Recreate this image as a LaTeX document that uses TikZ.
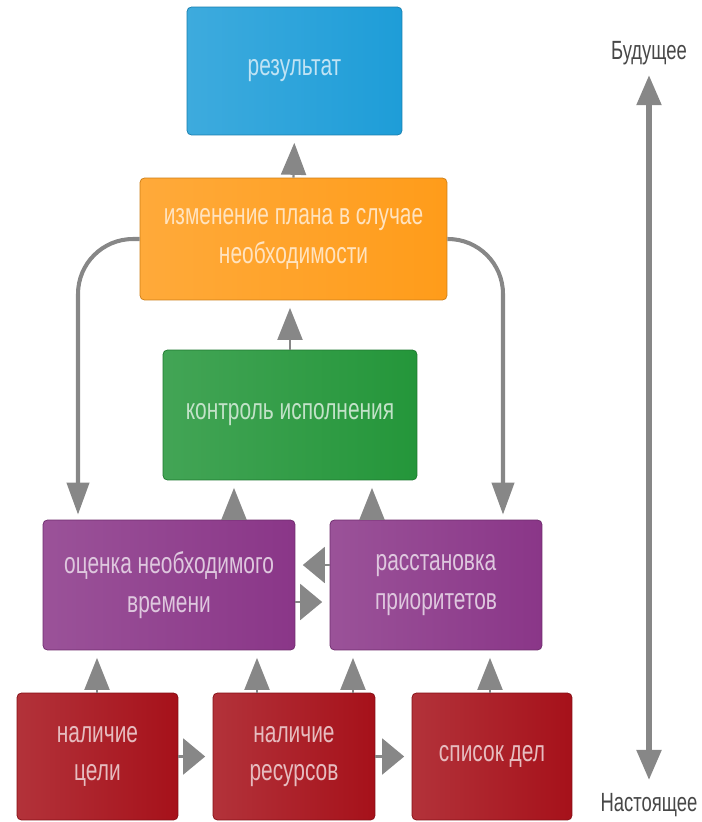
\documentclass[tikz,border=0pt]{standalone}
\usepackage{fontspec}
\newfontfamily\boxfont[FakeStretch=0.7]{Liberation Sans}
\usetikzlibrary{arrows.meta}

\definecolor{rezblue}{HTML}{1E9DD8}
\definecolor{izmorange}{HTML}{FF9C1A}
\definecolor{kontrgreen}{HTML}{24963A}
\definecolor{ocenpurple}{HTML}{8A3688}
\definecolor{nalred}{HTML}{A6111A}
\definecolor{arrowgray}{HTML}{878787}

\begin{document}
\begin{tikzpicture}[x=0.02cm, y=-0.02cm,
    colbox/.style={rounded corners=2.5pt, align=center, inner sep=0pt,
        left color=#1!86!white, right color=#1, draw=#1!80!black, line width=0.4pt,
        text=white!72!#1, font=\boxfont\fontsize{17}{22}\selectfont},
    uparr/.style={color=arrowgray, line width=1.2pt,
        -{Triangle[length=0.64cm, width=0.5cm]}, shorten >=0.15cm},
    sidearr/.style={color=arrowgray, line width=1.2pt,
        -{Triangle[length=0.44cm, width=0.72cm]}, shorten >=0.15cm},
    bendarr/.style={color=arrowgray, line width=2.3pt, rounded corners=1.1cm,
        -{Triangle[length=0.64cm, width=0.44cm]}, shorten >=0.1cm},
    timearr/.style={color=arrowgray, line width=3pt,
        {Triangle[length=0.6cm, width=0.48cm]}-{Triangle[length=0.6cm, width=0.48cm]}},
    timelabel/.style={inner sep=0pt, text=black!72, font=\boxfont\fontsize{15}{18}\selectfont}]

    \useasboundingbox (0,0) rectangle (701,822);

    % Boxes, top to bottom
    \node[colbox=rezblue, minimum width=4.3cm, minimum height=2.56cm] (rez) at (294.5,71) {результат};
    \node[colbox=izmorange, minimum width=6.14cm, minimum height=2.44cm] (izm) at (293.5,239)
        {изменение плана в случае\\необходимости};
    \node[colbox=kontrgreen, minimum width=5.08cm, minimum height=2.6cm] (kontr) at (290,415) {контроль исполнения};
    \node[colbox=ocenpurple, minimum width=5.04cm, minimum height=2.6cm] (ocen) at (169,585)
        {оценка необходимого\\времени};
    \node[colbox=ocenpurple, minimum width=4.24cm, minimum height=2.6cm] (rasst) at (436,585)
        {расстановка\\приоритетов};
    \node[colbox=nalred, minimum width=3.22cm, minimum height=2.54cm] (cel) at (97.5,756.5) {наличие\\цели};
    \node[colbox=nalred, minimum width=3.24cm, minimum height=2.54cm] (res) at (294,756.5) {наличие\\ресурсов};
    \node[colbox=nalred, minimum width=3.2cm, minimum height=2.54cm] (spisok) at (492,756.5) {список дел};

    % Upward arrows
    \draw[uparr] (izm.north) -- (rez.south);
    \draw[uparr] (kontr.north) -- (kontr.north |- izm.south);
    \draw[uparr] (234,0 |- ocen.north) -- (234,0 |- kontr.south);
    \draw[uparr] (372,0 |- rasst.north) -- (372,0 |- kontr.south);
    \draw[uparr] (97,0 |- cel.north) -- (97,0 |- ocen.south);
    \draw[uparr] (257,0 |- res.north) -- (257,0 |- ocen.south);
    \draw[uparr] (353,0 |- res.north) -- (353,0 |- rasst.south);
    \draw[uparr] (490,0 |- spisok.north) -- (490,0 |- rasst.south);

    % Side arrows
    \draw[sidearr] (rasst.west |- 0,565) -- (ocen.east |- 0,565);
    \draw[sidearr] (ocen.east |- 0,602) -- (rasst.west |- 0,602);
    \draw[sidearr] (cel.east) -- (res.west);
    \draw[sidearr] (res.east) -- (spisok.west);

    % Feedback from plan change
    \draw[bendarr] (izm.west) -| (78,0 |- ocen.north);
    \draw[bendarr] (izm.east) -| (503,0 |- rasst.north);

    % Time axis
    \node[timelabel] (bud) at (649,53) {Будущее};
    \node[timelabel] (nast) at (649,805) {Настоящее};
    \draw[timearr, shorten <=0.2cm, shorten >=0.26cm] (bud.south) -- (nast.north);
\end{tikzpicture}
\end{document}
